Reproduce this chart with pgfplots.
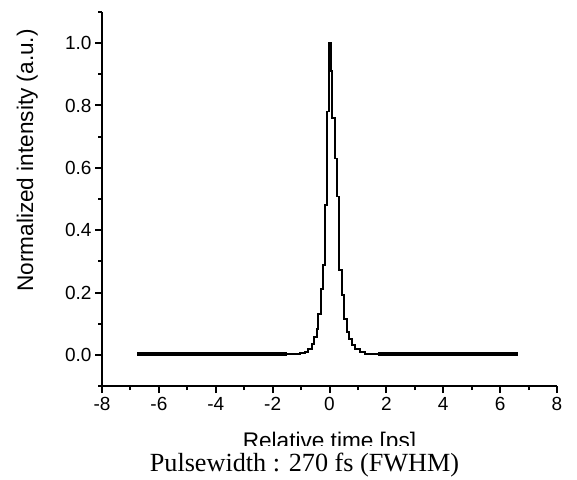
\documentclass[border=0pt]{standalone}
\usepackage{pgfplots}
\pgfplotsset{compat=1.18}
\usepackage{fontspec}
\setmainfont{Liberation Sans}
\newfontfamily\timesf{Liberation Serif}
\begin{document}
\begin{tikzpicture}
\useasboundingbox (0,0) rectangle (577pt,479pt);
\begin{axis}[
  at={(102pt,93pt)}, anchor=south west,
  scale only axis, width=455pt, height=374pt,
  xmin=-8, xmax=8, ymin=-0.1, ymax=1.1,
  axis lines*=left,
  axis line style={line width=2pt},
  every tick/.style={line width=2pt, black},
  tick align=outside,
  major tick length=7pt, minor tick length=4pt,
  xtick={-8,-6,...,8},
  minor xtick={-7,-5,-3,-1,1,3,5,7},
  ytick={0,0.2,0.4,0.6,0.8,1.0},
  minor ytick={-0.1,0.1,0.3,0.5,0.7,0.9,1.1},
  /pgf/number format/assume math mode=true,
  xticklabel={\fontsize{19}{23}\selectfont\pgfmathprintnumber{\tick}},
  yticklabel={\fontsize{19}{23}\selectfont\pgfmathprintnumber[fixed,fixed zerofill,precision=1]{\tick}},
  xticklabel style={yshift=-1pt},
  label style={font=\fontsize{22.6}{27}\selectfont},
  xlabel={Relative time [ps]},
  xlabel style={at={(axis description cs:0.5,-0.1684)}, anchor=base},
  ylabel={Normalized intensity (a.u.)},
  ylabel style={at={(axis description cs:-0.1516,0.603)}, anchor=base, rotate=0},
]
% main trace (step plot)
\addplot[const plot, black, line width=1.8pt] coordinates {
(-6.76,0.003) (-1.04,0.005) (-0.861,0.010) (-0.767,0.019) (-0.626,0.035)
(-0.534,0.058) (-0.450,0.084) (-0.394,0.132) (-0.309,0.212) (-0.239,0.289)
(-0.148,0.482) (-0.098,0.781) (-0.007,1.000) (0.053,0.910) (0.095,0.759)
(0.193,0.630) (0.253,0.508) (0.334,0.273) (0.429,0.193) (0.520,0.116)
(0.605,0.074) (0.696,0.051) (0.802,0.032) (0.897,0.019) (1.072,0.010)
(1.25,0.003) (6.62,0.003)
};
% noisy baseline (thick band)
\addplot[black, line width=4pt] coordinates {(-6.76,0.002) (-1.49,0.002)};
\addplot[black, line width=4pt] coordinates {(1.71,0.002) (6.62,0.002)};
\end{axis}
\fill[white] (0,0) rectangle (577pt,33pt);
\node[anchor=base, inner sep=0pt, font=\timesf\fontsize{26.2}{30}\selectfont] at (304.5pt,8pt) {Pulsewidth : 270 fs (FWHM)};
\end{tikzpicture}
\end{document}
